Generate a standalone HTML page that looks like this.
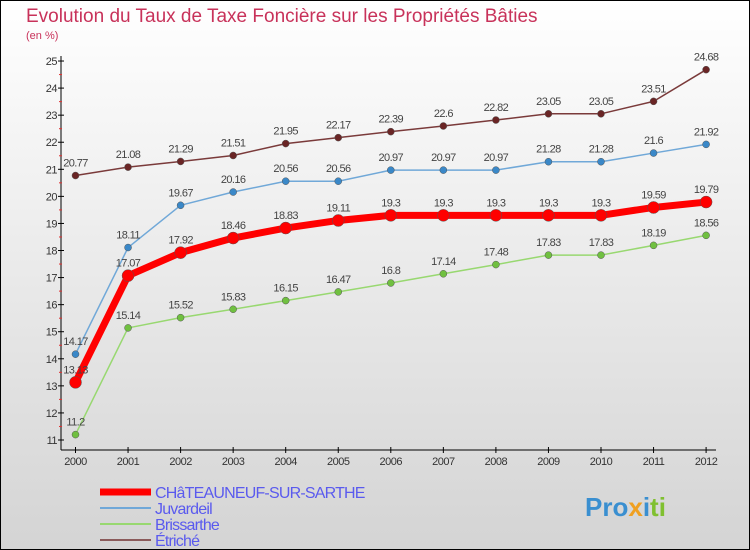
<!DOCTYPE html>
<html><head><meta charset="utf-8"><style>
body{margin:0;}
svg{display:block;font-family:"Liberation Sans",sans-serif;}
</style></head><body>
<svg id="c" width="750" height="550" xmlns="http://www.w3.org/2000/svg">
<defs><linearGradient id="bg" x1="0" y1="0" x2="0" y2="1"><stop offset="0" stop-color="#ffffff"/><stop offset="1" stop-color="#d4d4d4"/></linearGradient></defs>
<rect x="0.5" y="0.5" width="749" height="549" fill="url(#bg)" stroke="#000"/>
<text x="26" y="22" font-size="19" fill="#c8325a">Evolution du Taux de Taxe Foncière sur les Propriétés Bâties</text>
<text x="26" y="39" font-size="11" fill="#c8325a">(en %)</text>
<g id="axes"></g><g id="series"></g><g id="legend"></g>
<text x="585" y="516" font-size="26" font-weight="bold" fill="#3a8fd0">Pro<tspan fill="#f0a020">x</tspan><tspan fill="#3a8fd0">i</tspan><tspan fill="#80c030">ti</tspan></text>
</svg>
<script>
const years=["2000","2001","2002","2003","2004","2005","2006","2007","2008","2009","2010","2011","2012"];
const yTicks=[11,12,13,14,15,16,17,18,19,20,21,22,23,24,25];
const chateauneuf=[13.13,17.07,17.92,18.46,18.83,19.11,19.3,19.3,19.3,19.3,19.3,19.59,19.79];
const juvardeil=[14.17,18.11,19.67,20.16,20.56,20.56,20.97,20.97,20.97,21.28,21.28,21.6,21.92];
const brissarthe=[11.2,15.14,15.52,15.83,16.15,16.47,16.8,17.14,17.48,17.83,17.83,18.19,18.56];
const etriche=[20.77,21.08,21.29,21.51,21.95,22.17,22.39,22.6,22.82,23.05,23.05,23.51,24.68];
const seriesNames=["CHâTEAUNEUF-SUR-SARTHE","Juvardeil","Brissarthe","Étriché"];
const NS="http://www.w3.org/2000/svg";
const x=i=>75.5+i*52.55;
const y=v=>440-(v-11)*27.07;
function mk(t,a,p){const e=document.createElementNS(NS,t);for(const k in a)e.setAttribute(k,a[k]);p.appendChild(e);return e;}
const ax=document.getElementById('axes');
let l=mk('line',{x1:61,y1:56,x2:61,y2:450,stroke:'#000'},ax);


l=mk('line',{x1:61,y1:450,x2:716,y2:450,stroke:'#000'},ax);


yTicks.forEach(v=>{
 mk('line',{x1:58,y1:y(v),x2:64,y2:y(v),stroke:'#000'},ax);
 if(v<25) mk('line',{x1:59,y1:y(v+0.5),x2:62,y2:y(v+0.5),stroke:'#e03030'},ax);
 const t=mk('text',{x:57,y:y(v)+4,'font-size':11,'text-anchor':'end',fill:'#333','letter-spacing':'-0.5'},ax);t.textContent=v;
 
 
});
years.forEach((yr,i)=>{
 mk('line',{x1:x(i),y1:447,x2:x(i),y2:453,stroke:'#000'},ax);
 const t=mk('text',{x:x(i),y:465,'font-size':11,'text-anchor':'middle',fill:'#333','letter-spacing':'-0.5'},ax);t.textContent=yr;
 
 
});
const sg=document.getElementById('series');
const defs=[[etriche,'#7a3a3a','#6a2525',1.5,3.5,'etriche'],[juvardeil,'#70a8d8','#3a88c8',1.5,3.5,'juvardeil'],[brissarthe,'#98d870','#70c040',1.5,3.5,'brissarthe'],[chateauneuf,'#ff0000','#ff0000',7,6,'chateauneuf']];
defs.forEach(([d,c,pc,w,r,n])=>{
 const p=mk('polyline',{points:d.map((v,i)=>x(i)+','+y(v)).join(' '),fill:'none',stroke:c,'stroke-width':w,'stroke-linejoin':'round'},sg);
 
 
 d.forEach((v,i)=>{
  const ci=mk('circle',{cx:x(i),cy:y(v),r:r,fill:pc,stroke:'#555','stroke-width':0.5},sg);
  
  
  const t=mk('text',{x:x(i),y:y(v)-9,'font-size':11,'text-anchor':'middle',fill:'#444','letter-spacing':'-0.6'},sg);t.textContent=v;
  
  
 });
});
const lg=document.getElementById('legend');
const lc=[['#ff0000',7],['#70a8d8',2],['#98d870',2],['#8a5a5a',2]];
seriesNames.forEach((nm,i)=>{
 const yy=492+i*16;
 const ln=mk('line',{x1:100,y1:yy,x2:151,y2:yy,stroke:lc[i][0],'stroke-width':lc[i][1]},lg);
 
 
 const t=mk('text',{x:155,y:yy+6,'font-size':16,fill:'#5a5aee','letter-spacing':'-0.8'},lg);t.textContent=nm;
 
 
});
</script>
</body></html>
